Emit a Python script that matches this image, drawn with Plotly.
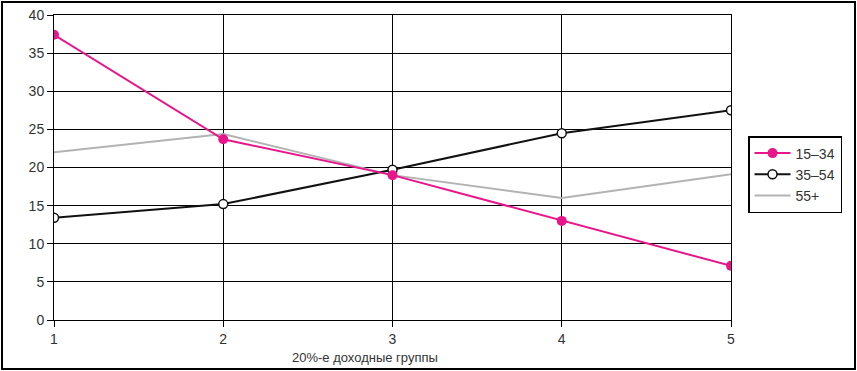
import plotly.graph_objects as go

groups = [1, 2, 3, 4, 5]
s_15_34 = [37.4, 23.7, 19.0, 13.0, 7.1]
s_35_54 = [13.4, 15.2, 19.7, 24.5, 27.5]
s_55p = [22.0, 24.4, 19.0, 16.0, 19.1]
names = ["15\u201334", "35\u201354", "55+"]
y_ticks = [0, 5, 10, 15, 20, 25, 30, 35, 40]
x_title = "20%-е доходные группы"

fig = go.Figure()
fig.add_trace(go.Scatter(x=groups, y=s_55p, name=names[2], mode="lines",
                         line=dict(color="#b3b3b3", width=2)))
fig.add_trace(go.Scatter(x=groups, y=s_35_54, name=names[1], mode="lines+markers",
                         line=dict(color="#111111", width=2),
                         marker=dict(symbol="circle", size=9, color="white",
                                     line=dict(color="#111111", width=1.5))))
fig.add_trace(go.Scatter(x=groups, y=s_15_34, name=names[0], mode="lines+markers",
                         line=dict(color="#e8168b", width=2),
                         marker=dict(symbol="circle", size=10, color="#e8168b")))

W, H = 857, 371
L, R, T, B = 54, 126, 15, 51
pw, ph = W - L - R, H - T - B

def px(x):
    return (x - L) / pw

def py(y):
    return (H - B - y) / ph

fig.update_layout(
    width=W, height=H,
    margin=dict(l=L, r=R, t=T, b=B, autoexpand=False),
    paper_bgcolor="white", plot_bgcolor="white",
    font=dict(family="Liberation Sans, Arial, sans-serif", size=14, color="#333333"),
    showlegend=True,
    legend=dict(x=px(748), y=py(136), xanchor="left", yanchor="top",
                bordercolor="black", borderwidth=1.5, traceorder="reversed",
                font=dict(size=14, color="#333333"), itemwidth=36,
                tracegroupgap=0, bgcolor="white"),
    xaxis=dict(range=[1, 5], tickvals=groups, showgrid=True, gridcolor="black",
               gridwidth=1, showline=True, linecolor="black", linewidth=1,
               mirror=True, ticks="outside", ticklen=6, tickcolor="black",
               zeroline=False, automargin=False),
    yaxis=dict(range=[0, 40], tickvals=y_ticks, showgrid=True, gridcolor="black",
               gridwidth=1, showline=True, linecolor="black", linewidth=1,
               mirror=True, ticks="outside", ticklen=6, tickcolor="black",
               zeroline=False, automargin=False),
    annotations=[dict(text=x_title, xref="paper", yref="paper",
                      x=px(365), y=py(357), xanchor="center", yanchor="middle",
                      showarrow=False, font=dict(size=13, color="#333333"))],
    shapes=[dict(type="rect", xref="paper", yref="paper",
                 x0=px(2), x1=px(855), y0=py(369), y1=py(2),
                 line=dict(color="black", width=2), layer="above")],
)

fig.write_html("out.html", config={"displayModeBar": False},
               post_script="document.body.style.margin='0';document.body.style.overflow='hidden';")
